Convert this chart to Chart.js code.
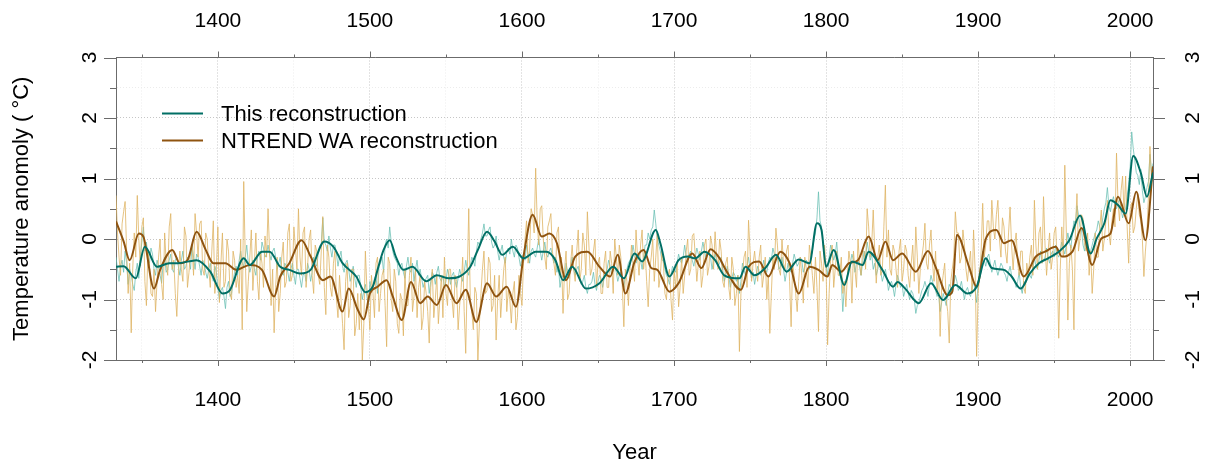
<!DOCTYPE html>
<html>
<head>
<meta charset="utf-8">
<script src="https://cdn.jsdelivr.net/npm/chart.js@4.4.1/dist/chart.umd.min.js"></script>
<style>
  html, body { margin: 0; padding: 0; background: #fff; }
  #wrap { width: 1206px; height: 466px; }
</style>
</head>
<body>
<div id="wrap"><canvas id="myChart" width="1206" height="466"></canvas></div>
<script>
// annual values, one per year starting from firstYear (20 years per row)
const firstYear = 1333;

// NTREND WA, annual
const ntrendAnnual = [
  0.72, 0.1, -0.3, -0.6, 0.25, 0.45, 0.62, -0.2, -0.9, -0.4, -1.55, -0.5, 0.1, -0.3, 0.72, 0.0, -0.45, 0.2, 0.35, -0.7,
  -1.1, -0.2, -0.4, -0.9, -0.95, -0.5, -1.2, -0.7, -0.3, 0.0, -0.75, -1.0, 0.1, -0.4, -0.6, 0.2, 0.42, -0.5, -0.35, -0.9,
  -1.28, -0.6, -0.2, -0.5, -0.7, 0.2, 0.05, -0.8, -0.55, -0.2, -0.1, -0.6, 0.42, 0.1, -0.3, 0.25, 0.3, -0.5, -0.6, 0.1,
  0.0, -0.5, -0.8, -0.2, 0.3, -0.9, -0.5, 0.2, -1.05, -0.4, 0.1, -0.8, -0.7, 0.0, -0.2, -0.9, -1.0, -0.2, -0.35, -0.8,
  -0.6, -0.9, 0.0, -1.5, 0.95, -0.3, -1.2, -0.7, -0.3, 0.15, -0.85, -0.4, 0.1, -0.7, -1.0, -0.2, -0.4, -0.8, 0.05, -0.3,
  0.5, -0.2, -1.1, -0.5, -1.55, -0.8, -0.3, -1.2, -0.9, -0.3, -0.05, -0.8, -0.7, 0.1, 0.25, -0.7, -0.6, 0.2, -0.15, -0.5,
  0.5, -0.3, -0.6, 0.1, 0.2, -0.8, -0.45, 0.0, 0.15, -0.6, -0.9, -0.1, -0.2, -0.6, -0.75, -0.2, 0.37, -0.8, -1.25, -0.1,
  -0.3, -0.8, -0.95, -0.4, -0.2, -1.0, -1.3, -0.6, -1.0, -1.4, -1.83, -0.7, -0.4, -1.3, -1.1, -0.5, -0.5, -1.6, -1.4, -0.9,
  -1.5, -0.9, -2.0, -1.4, -0.2, -0.8, -1.1, -1.5, -0.6, -0.9, -1.3, -0.4, -0.3, -1.2, -0.9, -0.6, -0.5, -1.1, -1.78, -0.3,
  -0.4, -1.0, -1.2, -0.5, -0.7, -1.4, -1.56, -0.9, -1.0, -1.6, -0.5, -1.1, -1.1, -0.6, -0.3, -1.2, -0.95, -0.5, -1.3, -0.8,
  -0.6, -1.5, -1.3, -0.7, -0.9, -1.2, -1.72, -0.8, -0.5, -1.3, -1.0, -0.6, -1.4, -1.0, -0.6, -1.3, -0.3, -0.9, -1.1, -0.5,
  -0.5, -1.0, -1.3, -0.6, -0.7, -1.5, -1.1, -0.8, -0.3, -1.2, -1.89, -0.6, 0.5, -1.0, -1.2, -1.5, -0.8, -0.9, -2.0, -1.4,
  -0.9, -0.5, -0.2, -0.9, -0.85, -0.3, -0.4, -1.2, -1.1, -0.6, -1.67, -1.0, -0.6, -1.3, -0.9, -0.5, -0.3, -1.2, -0.85, -1.0,
  -1.39, -0.9, -0.7, -1.5, -1.3, -0.6, -0.9, -1.1, -0.4, 0.0, 0.3, -0.4, -0.2, 0.5, 0.4, 0.1, 1.17, 0.3, -0.1, 0.5,
  0.55, 0.0, -0.3, -0.5, 0.2, 0.3, 0.42, -0.2, -0.4, -0.6, 0.1, 0.2, -0.6, -0.3, -1.23, -0.5, -0.2, -1.0, -0.9, -0.4,
  -0.1, -0.5, -0.7, -0.2, 0.15, -0.7, -0.5, 0.1, -0.1, -0.6, 0.45, -0.1, -0.6, -0.5, -0.2, 0.0, -0.8, -0.4, -0.3, -0.9,
  -0.9, -0.4, -0.2, -0.8, -0.8, -0.2, -0.4, -0.9, 0.0, -0.3, -0.6, -0.1, -0.3, -0.8, -1.45, -0.5, -0.7, -1.1, -0.5, -0.1,
  -0.4, -0.7, 0.15, -0.3, -0.6, -0.1, 0.15, -0.5, -0.2, -0.7, -1.12, -0.5, -0.3, 0.0, -0.7, -0.3, 0.1, -0.8, -0.6, -0.2,
  -0.4, -0.9, -1.0, -0.6, -0.5, -1.0, -1.34, -0.5, -0.8, -0.4, -1.12, -0.8, -0.3, -0.9, -0.6, -0.2, 0.0, -0.6, -0.5, 0.05,
  0.09, -0.3, -0.7, -0.4, -0.2, -0.8, -0.6, -0.1, 0.0, -0.6, -0.45, 0.05, -0.1, -0.5, 0.12, -0.3, -0.5, 0.0, -0.2, -0.7,
  -0.8, -0.4, -0.3, -0.8, -1.0, -0.3, -0.5, -1.1, -0.9, -0.6, -1.86, -0.9, -0.6, -0.3, -0.2, -0.8, 0.31, -0.2, -0.7, -0.4,
  -0.2, -0.5, -0.7, -0.3, -0.1, -0.8, -0.6, -0.3, -1.0, -0.6, -1.56, -0.9, -0.3, -0.5, 0.18, -0.1, -0.5, -0.6, 0.0, -0.4,
  -0.5, -0.2, -0.1, -0.7, -1.45, -0.4, -0.6, -0.9, -1.2, -0.7, -0.3, -0.6, -1.06, -0.3, -0.5, -0.8, -0.1, -0.3, -0.6, -0.9,
  -0.3, -0.8, -1.53, -0.2, -0.4, -0.7, -0.1, -0.5, -1.75, -0.9, -0.3, -0.1, -0.8, -0.5, -0.2, -0.6, -0.6, -0.3, -0.9, -0.7,
  -1.12, -0.6, -0.2, -0.4, -1.06, -0.2, -0.5, -0.8, 0.0, -0.4, -0.6, -0.2, -0.2, -0.5, 0.5, 0.2, -0.3, -0.1, 0.48, -0.2,
  -0.73, -0.3, -0.1, -0.6, -0.5, 0.2, 0.89, -0.3, 0.15, -0.5, -0.6, -0.1, -0.2, -0.5, -0.8, -0.2, 0.0, -0.7, -0.5, -0.1,
  -0.2, -0.6, -0.8, -0.4, -0.1, -0.7, 0.2, -0.3, -0.9, -0.5, -0.3, -0.1, 0.26, -0.4, -0.5, -0.1, 0.15, -0.4, -0.7, -0.2,
  -0.9, -0.5, -1.61, -0.8, -0.6, -0.4, -1.0, -1.2, -1.72, -0.7, -0.5, -0.3, 0.45, 0.1, 0.1, -0.4, -0.3, 0.15, -0.1, -0.5,
  -0.7, -0.4, -0.2, -0.9, 0.15, -0.5, -1.94, -0.9, -0.6, -0.2, 0.59, -0.3, -0.1, 0.3, 0.3, -0.2, 0.64, 0.2, 0.0, 0.4,
  0.64, 0.0, -0.3, 0.35, 0.2, -0.2, -0.4, 0.1, 0.53, -0.1, -0.51, -0.1, 0.1, -0.4, -0.6, -0.2, -0.2, -0.8, -0.9, -0.4,
  -0.6, -0.3, -0.1, -0.6, 0.64, -0.1, -0.5, 0.1, 0.2, -0.4, 0.7, -0.1, -0.6, -0.2, 0.1, -0.5, -0.3, 0.1, 0.2, -0.4,
  -1.64, -0.5, 0.2, -0.3, 1.22, 0.1, -1.34, -0.4, -0.1, -0.5, -1.5, 0.2, 0.75, -0.2, 0.0, 0.4, 0.34, -0.1, -0.2, 0.1,
  -0.6, -0.2, -0.9, -0.5, 0.1, -0.3, -0.3, 0.2, 0.48, -0.2, 0.0, 0.3, 0.64, 0.1, -0.1, 0.3, 0.5, 0.2, 1.42, 0.6,
  0.3, 0.8, 1.04, 0.4, 1.04, 0.2, -0.4, 0.5, 0.6, 0.1, 0.2, 0.5, 0.75, 0.4, 0.3, 0.0, -0.62, -0.2, 0.1, 0.7,
  1.53, 1.0, 1.2
];

// this reconstruction, annual
const thisAnnual = [
  -0.3, -0.5, -0.7, -0.45, -0.35, -0.55, -0.2, -0.4, -0.75, -0.5, -0.6, -0.75, -0.85, -0.55, -0.4, -0.65, -0.3, -0.05, 0.2, -0.2,
  -0.05, -0.3, -0.4, -0.15, -0.25, -0.5, -0.6, -0.35, -0.45, -0.6, -0.73, -0.4, -0.3, -0.55, -0.5, -0.35, -0.25, -0.5, -0.55, -0.35,
  -0.3, -0.45, -0.6, -0.35, -0.2, -0.5, -0.45, -0.3, -0.35, -0.5, -0.1, -0.3, -0.5, -0.25, -0.3, -0.45, -0.6, -0.35, -0.4, -0.55,
  -0.65, -0.5, -0.4, -0.6, -0.7, -0.45, -0.55, -0.8, -1.0, -0.85, -0.8, -0.95, -1.15, -0.8, -0.7, -0.95, -0.9, -0.7, -0.55, -0.45,
  -0.6, -0.35, -0.2, -0.4, -0.45, -0.3, -0.1, -0.4, -0.55, -0.45, -0.35, -0.5, -0.6, -0.3, -0.2, -0.35, -0.05, -0.15, -0.3, -0.25,
  -0.1, -0.25, -0.35, -0.2, -0.15, -0.3, -0.5, -0.4, -0.3, -0.55, -0.6, -0.4, -0.45, -0.55, -0.7, -0.5, -0.4, -0.6, -0.75, -0.5,
  -0.5, -0.65, -0.8, -0.6, -0.55, -0.7, -0.4, -0.5, -0.7, -0.55, -0.3, -0.4, -0.45, -0.25, -0.15, -0.1, 0.35, -0.05, -0.1, -0.2,
  0.05, -0.15, -0.3, -0.1, -0.1, -0.25, -0.45, -0.3, -0.2, -0.45, -0.55, -0.4, -0.35, -0.5, -0.7, -0.6, -0.45, -0.65, -0.8, -0.6,
  -0.6, -0.8, -1.0, -0.85, -0.75, -0.95, -1.1, -0.7, -0.85, -0.8, -0.65, -0.6, -0.9, -0.45, -0.4, -0.3, -0.55, -0.1, 0.0, -0.15,
  0.2, -0.05, -0.2, -0.3, -0.35, -0.4, -0.6, -0.45, -0.4, -0.55, -0.65, -0.45, -0.3, -0.5, -0.55, -0.4, -0.7, -0.5, -0.35, -0.6,
  -0.5, -0.65, -0.8, -0.7, -0.65, -0.6, -0.9, -0.7, -0.55, -0.6, -0.75, -0.55, -0.45, -0.65, -0.7, -0.6, -0.8, -0.7, -0.5, -0.6,
  -0.75, -0.6, -0.55, -0.7, -0.8, -0.65, -0.5, -0.6, -0.7, -0.55, -0.35, -0.5, -0.6, -0.45, -0.3, -0.35, -0.45, -0.2, -0.05, -0.1,
  0.0, 0.1, 0.25, 0.05, 0.05, 0.15, 0.2, -0.05, -0.15, -0.1, 0.05, -0.2, -0.35, -0.2, -0.1, -0.3, -0.4, -0.2, -0.15, -0.25,
  0.0, -0.2, -0.3, -0.1, -0.15, -0.3, -0.45, -0.3, -0.25, -0.35, -0.1, -0.25, -0.4, -0.2, -0.15, -0.25, -0.3, -0.15, 0.0, -0.2,
  -0.35, -0.2, -0.05, -0.25, -0.3, -0.2, -0.15, -0.3, -0.4, -0.3, -0.55, -0.45, -0.8, -0.65, -0.6, -0.7, -0.4, -0.55, -0.65, -0.45,
  -0.3, -0.5, -0.6, -0.5, -0.45, -0.65, -0.75, -0.7, -0.6, -0.8, -0.9, -0.75, -0.75, -0.7, -0.55, -0.75, -0.85, -0.7, -0.6, -0.65,
  -0.8, -0.65, -0.55, -0.5, -0.35, -0.45, -0.6, -0.5, -0.45, -0.55, -0.7, -0.6, -0.55, -0.7, -0.8, -0.6, -0.5, -0.4, -0.35, -0.3,
  -0.1, -0.25, -0.4, -0.3, -0.25, -0.35, -0.5, -0.3, -0.1, -0.1, 0.1, 0.0, 0.15, 0.2, 0.48, 0.25, 0.0, -0.1, -0.2, -0.35,
  -0.35, -0.5, -0.6, -0.65, -0.75, -0.6, -0.45, -0.5, -0.55, -0.4, -0.25, -0.35, -0.4, -0.3, -0.1, -0.3, -0.35, -0.25, -0.2, -0.35,
  -0.45, -0.3, -0.15, -0.25, -0.35, -0.2, -0.05, -0.2, -0.3, -0.25, -0.2, -0.3, -0.5, -0.35, -0.25, -0.35, -0.45, -0.4, -0.3, -0.5,
  -0.7, -0.6, -0.45, -0.6, -0.8, -0.65, -0.55, -0.6, -0.7, -0.6, -0.9, -0.7, -0.4, -0.5, -0.6, -0.45, -0.3, -0.5, -0.65, -0.55,
  -0.75, -0.6, -0.45, -0.55, -0.6, -0.5, -0.35, -0.5, -0.55, -0.4, -0.3, -0.35, -0.15, -0.25, -0.35, -0.3, -0.5, -0.45, -0.3, -0.5,
  -0.7, -0.55, -0.4, -0.5, -0.55, -0.4, -0.25, -0.35, -0.45, -0.4, -0.3, -0.35, -0.55, -0.45, -0.35, -0.4, -0.5, -0.3, -0.2, 0.0,
  0.1, 0.35, 0.78, 0.3, 0.2, -0.1, -0.3, -0.45, -0.6, -0.3, -0.1, -0.2, -0.35, -0.25, -0.05, -0.4, -0.5, -0.7, -1.2, -0.8,
  -0.7, -0.6, -0.5, -0.4, -0.25, -0.35, -0.55, -0.4, -0.35, -0.45, -0.6, -0.4, -0.2, -0.3, -0.05, -0.2, -0.35, -0.25, -0.5, -0.4,
  -0.6, -0.5, -0.35, -0.55, -0.7, -0.6, -0.5, -0.65, -0.85, -0.75, -0.7, -0.8, -0.95, -0.75, -0.6, -0.7, -0.8, -0.75, -0.95, -0.85,
  -0.75, -0.9, -1.0, -0.85, -0.9, -1.0, -1.23, -1.1, -1.05, -0.95, -0.85, -0.8, -0.7, -0.8, -0.95, -0.75, -0.6, -0.7, -0.8, -0.85,
  -0.95, -0.9, -1.2, -1.05, -0.9, -1.0, -1.1, -0.9, -0.75, -0.8, -0.9, -0.75, -0.6, -0.7, -0.85, -0.8, -0.7, -0.85, -1.0, -0.85,
  -0.8, -0.9, -0.95, -0.8, -0.7, -0.85, -1.05, -0.75, -0.5, -0.4, -0.2, -0.35, -0.45, -0.3, -0.25, -0.4, -0.55, -0.45, -0.35, -0.5,
  -0.6, -0.5, -0.4, -0.45, -0.55, -0.6, -0.7, -0.55, -0.45, -0.6, -0.65, -0.7, -0.8, -0.7, -0.55, -0.8, -0.9, -0.7, -0.75, -0.65,
  -0.5, -0.6, -0.65, -0.5, -0.3, -0.45, -0.5, -0.35, -0.2, -0.4, -0.35, -0.3, -0.15, -0.3, -0.4, -0.25, -0.2, -0.3, -0.1, -0.25,
  -0.3, -0.2, -0.05, -0.15, -0.25, -0.1, 0.1, -0.05, -0.15, 0.1, 0.3, 0.25, 0.55, 0.4, 0.2, 0.15, -0.1, -0.2, 0.0, -0.2,
  -0.35, -0.2, -0.1, 0.0, 0.1, 0.15, 0.3, 0.2, 0.15, 0.35, 0.5, 0.6, 0.85, 0.55, 0.45, 0.6, 0.7, 0.55, 0.5, 0.6,
  0.65, 0.5, 0.35, 0.45, 0.5, 0.7, 0.9, 1.2, 1.77, 1.5, 1.3, 1.1, 1.05, 0.9, 1.15, 0.8, 0.6, 0.7, 0.85, 0.95,
  1.4, 1.1, 1.25
];

// low-pass filtered curves (year, value)
const thisSmoothYears = [
  1333, 1338, 1346, 1352, 1360, 1368, 1374, 1381, 1386, 1395, 1403, 1408, 1417, 1421, 1429, 1434,
  1441, 1447, 1454, 1461, 1470, 1476, 1482, 1491, 1497, 1502, 1505, 1509, 1513, 1517, 1522, 1528,
  1537, 1544, 1552, 1559, 1566, 1571, 1577, 1582, 1587, 1594, 1601, 1609, 1616, 1622, 1627, 1633,
  1642, 1651, 1660, 1667, 1674, 1679, 1688, 1691, 1697, 1703, 1709, 1714, 1720, 1727, 1733, 1743,
  1747, 1753, 1760, 1767, 1774, 1782, 1789, 1794, 1797, 1800, 1805, 1812, 1817, 1824, 1828, 1837,
  1844, 1847, 1852, 1861, 1869, 1877, 1885, 1893, 1899, 1905, 1909, 1917, 1922, 1928, 1934, 1940,
  1946, 1953, 1960, 1967, 1974, 1978, 1983, 1987, 1992, 1997, 2002, 2007, 2011, 2015
];
const thisSmooth = [
  -0.46, -0.45, -0.65, -0.13, -0.46, -0.40, -0.40, -0.37, -0.35, -0.54, -0.90, -0.84, -0.32, -0.43, -0.21, -0.21,
  -0.46, -0.51, -0.57, -0.51, -0.04, -0.13, -0.40, -0.62, -0.88, -0.78, -0.51, -0.18, -0.02, -0.29, -0.51, -0.46,
  -0.70, -0.60, -0.65, -0.62, -0.46, -0.18, 0.12, -0.04, -0.26, -0.13, -0.32, -0.21, -0.21, -0.35, -0.68, -0.46,
  -0.82, -0.73, -0.46, -0.65, -0.24, -0.37, 0.15, -0.07, -0.62, -0.35, -0.29, -0.32, -0.21, -0.35, -0.60, -0.65,
  -0.46, -0.60, -0.48, -0.26, -0.54, -0.34, -0.40, 0.26, 0.15, -0.46, -0.18, -0.76, -0.37, -0.43, -0.21, -0.51,
  -0.79, -0.71, -0.82, -1.06, -0.73, -1.01, -0.76, -0.90, -0.79, -0.32, -0.48, -0.51, -0.62, -0.82, -0.57, -0.40,
  -0.32, -0.21, -0.02, 0.39, -0.24, 0.01, 0.26, 0.64, 0.56, 0.42, 1.37, 1.09, 0.70, 1.10
];

const ntrendSmoothYears = [
  1333, 1338, 1342, 1348, 1351, 1358, 1362, 1370, 1375, 1380, 1386, 1392, 1397, 1405, 1412, 1421,
  1429, 1437, 1441, 1447, 1455, 1461, 1469, 1474, 1482, 1486, 1492, 1496, 1500, 1505, 1511, 1515,
  1521, 1527, 1533, 1538, 1544, 1550, 1557, 1563, 1570, 1577, 1583, 1590, 1596, 1601, 1607, 1613,
  1618, 1623, 1629, 1635, 1643, 1651, 1658, 1663, 1668, 1674, 1680, 1685, 1689, 1697, 1703, 1712,
  1718, 1724, 1730, 1734, 1744, 1749, 1756, 1762, 1770, 1776, 1782, 1789, 1795, 1801, 1804, 1810,
  1815, 1821, 1828, 1834, 1839, 1844, 1850, 1859, 1867, 1872, 1880, 1883, 1886, 1894, 1899, 1905,
  1912, 1917, 1922, 1930, 1938, 1944, 1951, 1955, 1962, 1968, 1975, 1981, 1987, 1992, 1999, 2004,
  2010, 2015
];
const ntrendSmooth = [
  0.29, -0.04, -0.35, 0.09, 0.04, -0.82, -0.51, -0.18, -0.40, -0.35, 0.12, -0.18, -0.40, -0.40, -0.51, -0.43,
  -0.51, -0.95, -0.62, -0.40, -0.02, -0.29, -0.68, -0.62, -1.20, -0.82, -1.17, -1.33, -0.90, -0.79, -0.68, -0.95,
  -1.34, -0.71, -1.06, -0.95, -1.09, -0.76, -1.06, -0.84, -1.37, -0.73, -0.95, -0.79, -1.12, -0.29, 0.40, 0.04,
  0.09, -0.07, -0.68, -0.29, -0.21, -0.46, -0.62, -0.26, -0.90, -0.38, -0.18, -0.48, -0.51, -0.87, -0.73, -0.24,
  -0.48, -0.17, -0.32, -0.51, -0.84, -0.46, -0.37, -0.62, -0.21, -0.40, -0.90, -0.46, -0.51, -0.62, -0.43, -0.54,
  -0.40, -0.35, 0.04, -0.35, -0.04, -0.35, -0.24, -0.54, -0.20, -0.46, -0.93, -0.87, 0.07, -0.46, -0.79, 0.00,
  0.15, -0.07, -0.02, -0.62, -0.29, -0.21, -0.13, -0.29, -0.21, 0.18, -0.43, 0.01, 0.09, 0.70, 0.26, 0.78,
  -0.02, 1.20
];

const FONT = 'Arial, "Liberation Sans", Helvetica, sans-serif';
Chart.defaults.font.family = FONT;
Chart.defaults.color = '#000';

const annualPoints = vals => vals.map((v, i) => ({ x: firstYear + i, y: v }));
const pairPoints = (yrs, vals) => yrs.map((yr, i) => ({ x: yr, y: vals[i] }));

const isCentury = v => v % 100 === 0;
const yearLabel = v => (isCentury(v) ? String(v) : '');

// R-style outside tick marks, rotated y labels and the legend box
const rAxes = {
  id: 'rAxes',
  afterDraw(chart) {
    const { ctx, chartArea: a, scales } = chart;
    ctx.save();
    ctx.strokeStyle = '#6b6b6b';
    ctx.lineWidth = 1;
    ctx.beginPath();
    scales.x.ticks.forEach(t => {
      const px = Math.round(scales.x.getPixelForValue(t.value)) + 0.5;
      const len = isCentury(t.value) ? 6 : 3;
      ctx.moveTo(px, a.bottom); ctx.lineTo(px, a.bottom + len);
      ctx.moveTo(px, a.top); ctx.lineTo(px, a.top - len);
    });
    scales.y.ticks.forEach(t => {
      const py = Math.round(scales.y.getPixelForValue(t.value)) + 0.5;
      const len = Number.isInteger(t.value) ? 12 : 6;
      ctx.moveTo(a.left, py); ctx.lineTo(a.left - len, py);
      ctx.moveTo(a.right, py); ctx.lineTo(a.right + len, py);
    });
    ctx.stroke();

    ctx.fillStyle = '#000';
    ctx.font = '21px ' + FONT;
    ctx.textAlign = 'center';
    ctx.textBaseline = 'middle';
    scales.y.ticks.filter(t => Number.isInteger(t.value)).forEach(t => {
      const py = scales.y.getPixelForValue(t.value);
      [a.left - 26, a.right + 40].forEach(px => {
        ctx.save();
        ctx.translate(px, py);
        ctx.rotate(-Math.PI / 2);
        ctx.fillText(String(t.value), 0, 0);
        ctx.restore();
      });
    });

    // legend
    const items = chart.data.datasets.filter(d => d.label);
    ctx.font = '22px ' + FONT;
    ctx.textAlign = 'left';
    items.forEach((d, i) => {
      const ly = a.top + 56 + i * 27;
      ctx.strokeStyle = d.borderColor;
      ctx.lineWidth = 2;
      ctx.beginPath();
      ctx.moveTo(a.left + 46, ly);
      ctx.lineTo(a.left + 87, ly);
      ctx.stroke();
      ctx.fillText(d.label, a.left + 105, ly + 1);
    });
    ctx.restore();
  }
};

const gridStyle = major => (major ? '#c6c6c6' : '#ececec');

const ctx = document.getElementById('myChart').getContext('2d');
const myChart = new Chart(ctx, {
  type: 'line',
  data: {
    datasets: [
      {
        label: 'This reconstruction',
        data: pairPoints(thisSmoothYears, thisSmooth),
        borderColor: '#016f65',
        borderWidth: 2,
        cubicInterpolationMode: 'monotone',
        pointRadius: 0,
        fill: false
      },
      {
        label: 'NTREND WA reconstruction',
        data: pairPoints(ntrendSmoothYears, ntrendSmooth),
        borderColor: '#8f5410',
        borderWidth: 2,
        cubicInterpolationMode: 'monotone',
        pointRadius: 0,
        fill: false
      },
      {
        data: annualPoints(ntrendAnnual),
        borderColor: 'rgba(222, 180, 100, 0.8)',
        borderWidth: 1,
        tension: 0,
        pointRadius: 0,
        fill: false
      },
      {
        data: annualPoints(thisAnnual),
        borderColor: 'rgba(102, 190, 178, 0.75)',
        borderWidth: 1,
        tension: 0,
        pointRadius: 0,
        fill: false
      }
    ]
  },
  options: {
    responsive: false,
    animation: false,
    layout: { padding: 0 },
    plugins: { legend: { display: false }, tooltip: { enabled: false } },
    scales: {
      x: {
        type: 'linear',
        position: 'bottom',
        min: 1333,
        max: 2015,
        afterFit: s => { s.height = 106; },
        ticks: {
          stepSize: 50, includeBounds: false, autoSkip: false, maxRotation: 0,
          padding: 28, font: { size: 21 }, color: '#000', callback: yearLabel
        },
        grid: {
          drawTicks: false,
          color: c => gridStyle(c.tick && isCentury(c.tick.value))
        },
        border: { color: '#6b6b6b', dash: [1, 2] },
        title: {
          display: true, text: 'Year', color: '#000',
          font: { size: 22 }, padding: { top: 0, bottom: 0 }
        }
      },
      xTop: {
        type: 'linear',
        position: 'top',
        min: 1333,
        max: 2015,
        afterFit: s => { s.height = 57.5; },
        ticks: {
          stepSize: 50, includeBounds: false, autoSkip: false, maxRotation: 0,
          padding: 24, font: { size: 21 }, color: '#000', callback: yearLabel
        },
        grid: { display: false, drawTicks: false },
        border: { color: '#6b6b6b' }
      },
      y: {
        type: 'linear',
        position: 'left',
        min: -2,
        max: 3,
        afterFit: s => { s.width = 116; },
        ticks: { stepSize: 0.5, display: false },
        grid: {
          drawTicks: false,
          color: c => gridStyle(c.tick && Number.isInteger(c.tick.value))
        },
        border: { color: '#6b6b6b', dash: [1, 2] },
        title: {
          display: true, text: 'Temperature anomoly ( °C)', color: '#000',
          font: { size: 22 }, padding: { top: 9, bottom: 0 }
        }
      },
      yRight: {
        type: 'linear',
        position: 'right',
        min: -2,
        max: 3,
        afterFit: s => { s.width = 53; },
        ticks: { stepSize: 0.5, display: false },
        grid: { display: false, drawTicks: false },
        border: { color: '#6b6b6b' }
      }
    }
  },
  plugins: [rAxes]
});
</script>
</body>
</html>
